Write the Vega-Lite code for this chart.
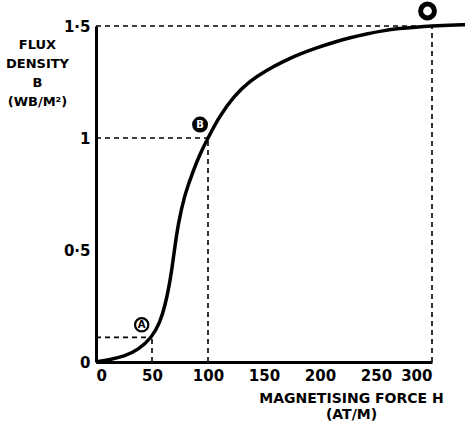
{
  "$schema": "https://vega.github.io/schema/vega-lite/v6.json",
  "width": 336,
  "height": 336,
  "autosize": "none",
  "padding": {"left": 96, "top": 26, "right": 33, "bottom": 61},
  "background": "white",
  "config": {
    "view": {"stroke": null},
    "font": "DejaVu Sans",
    "axis": {
      "domainColor": "black",
      "domainWidth": 3,
      "ticks": false,
      "grid": false,
      "labelFont": "DejaVu Sans",
      "labelFontWeight": "bold",
      "labelFontSize": 15,
      "labelColor": "black",
      "titleFont": "DejaVu Sans",
      "titleFontWeight": "bold",
      "titleFontSize": 13,
      "titleColor": "black"
    }
  },
  "datasets": {
    "curve": [
      {"H": 0, "B": 0}, {"H": 12.5, "B": 0.011}, {"H": 25, "B": 0.025}, {"H": 37.8, "B": 0.054},
      {"H": 50, "B": 0.11}, {"H": 57, "B": 0.175}, {"H": 61.6, "B": 0.25}, {"H": 65.2, "B": 0.337},
      {"H": 67.8, "B": 0.415}, {"H": 70, "B": 0.5}, {"H": 73.5, "B": 0.62}, {"H": 79, "B": 0.745},
      {"H": 86.5, "B": 0.85}, {"H": 93, "B": 0.93}, {"H": 100, "B": 1.0}, {"H": 110, "B": 1.095},
      {"H": 122.6, "B": 1.185}, {"H": 137.5, "B": 1.255}, {"H": 152.4, "B": 1.303}, {"H": 167.2, "B": 1.342},
      {"H": 182, "B": 1.375}, {"H": 197, "B": 1.403}, {"H": 212, "B": 1.427}, {"H": 227, "B": 1.448},
      {"H": 241.7, "B": 1.465}, {"H": 256, "B": 1.479}, {"H": 271, "B": 1.489}, {"H": 285, "B": 1.495},
      {"H": 300, "B": 1.5}, {"H": 315, "B": 1.503}, {"H": 330, "B": 1.506}
    ],
    "guides": [
      {"point": "A", "H": 50, "B": 0.11},
      {"point": "B", "H": 100, "B": 1.0},
      {"point": "C", "H": 300, "B": 1.5}
    ],
    "markers": [
      {"letter": "A", "H": 40.8, "B": 0.166},
      {"letter": "B", "H": 92.9, "B": 1.06},
      {"letter": "C", "H": 296, "B": 1.567}
    ]
  },
  "encoding": {
    "x": {
      "field": "H", "type": "quantitative",
      "scale": {"domain": [0, 300], "nice": false, "zero": true},
      "axis": {
        "values": [0, 50, 100, 150, 200, 250, 300],
        "labelPadding": 6,
        "title": ["MAGNETISING FORCE H", "(AT/M)"],
        "titleFontSize": 14,
        "titleAlign": "center",
        "titleBaseline": "alphabetic",
        "titleX": 255,
        "titleY": 40,
        "titleLineHeight": 16
      }
    },
    "y": {
      "field": "B", "type": "quantitative",
      "scale": {"domain": [0, 1.5], "nice": false},
      "axis": {
        "values": [0, 0.5, 1, 1.5],
        "labelExpr": "replace(datum.value + '', '.', '·')",
        "labelPadding": 6,
        "title": ["FLUX", "DENSITY", "B", "(WB/M²)"],
        "titleAngle": 0,
        "titleAlign": "center",
        "titleBaseline": "alphabetic",
        "titleX": -59,
        "titleY": 22,
        "titleLineHeight": 19
      }
    }
  },
  "layer": [
    {
      "data": {"name": "guides"},
      "mark": {"type": "rule", "strokeDash": [5, 4], "strokeWidth": 1.6, "color": "black"},
      "encoding": {"x": {"datum": 0}, "x2": {"field": "H"}, "y": {"field": "B"}}
    },
    {
      "data": {"name": "guides"},
      "mark": {"type": "rule", "strokeDash": [5, 4], "strokeWidth": 1.6, "color": "black"},
      "encoding": {"y": {"datum": 0}, "y2": {"field": "B"}, "x": {"field": "H"}}
    },
    {
      "data": {"name": "curve"},
      "mark": {"type": "line", "interpolate": "basis", "color": "black", "strokeWidth": 3.5, "clip": false}
    },
    {
      "data": {"name": "markers"},
      "transform": [{"filter": "datum.letter === 'A'"}],
      "layer": [
        {"mark": {"type": "point", "shape": "circle", "size": 177, "filled": false, "stroke": "black", "strokeWidth": 2.2, "fill": "white", "fillOpacity": 1}},
        {"mark": {"type": "text", "font": "DejaVu Sans", "fontWeight": "bold", "fontSize": 10, "color": "black", "baseline": "middle", "align": "center"}, "encoding": {"text": {"field": "letter"}}}
      ]
    },
    {
      "data": {"name": "markers"},
      "transform": [{"filter": "datum.letter === 'B'"}],
      "layer": [
        {"mark": {"type": "point", "shape": "circle", "size": 254, "filled": true, "color": "black", "opacity": 1}},
        {"mark": {"type": "text", "font": "DejaVu Sans", "fontWeight": "bold", "fontSize": 10, "color": "white", "baseline": "middle", "align": "center"}, "encoding": {"text": {"field": "letter"}}}
      ]
    },
    {
      "data": {"name": "markers"},
      "transform": [{"filter": "datum.letter === 'C'"}],
      "mark": {"type": "point", "shape": "circle", "size": 190, "filled": false, "stroke": "black", "strokeWidth": 5, "fill": "white", "fillOpacity": 1, "clip": false}
    }
  ]
}
